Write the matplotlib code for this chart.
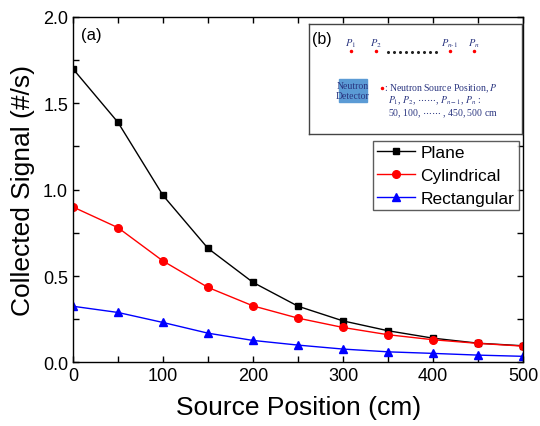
import matplotlib.pyplot as plt
from matplotlib.patches import Rectangle

plt.rcParams["font.family"] = ["Liberation Sans", "DejaVu Sans"]
plt.rcParams["mathtext.fontset"] = "stix"

# data
positions = [0, 50, 100, 150, 200, 250, 300, 350, 400, 450, 500]
plane = [1.70, 1.39, 0.967, 0.66, 0.463, 0.325, 0.24, 0.183, 0.14, 0.111, 0.096]
cylindrical = [0.90, 0.78, 0.587, 0.434, 0.327, 0.256, 0.202, 0.16, 0.131, 0.11, 0.094]
rectangular = [0.325, 0.289, 0.231, 0.169, 0.127, 0.10, 0.077, 0.061, 0.052, 0.042, 0.035]

fig = plt.figure(figsize=(5.4, 4.27), dpi=100)
ax = fig.add_axes([0.135, 0.149, 0.834, 0.809])

ax.plot(positions, plane, "-s", color="black", lw=1, ms=5, label="Plane")
ax.plot(positions, cylindrical, "-o", color="red", lw=1, ms=5.5, label="Cylindrical")
ax.plot(positions, rectangular, "-^", color="blue", lw=1, ms=5.5, label="Rectangular")

ax.set_xlim(0, 500)
ax.set_ylim(0, 2.0)
ax.set_xticks([0, 100, 200, 300, 400, 500])
ax.set_xticks(range(50, 500, 100), minor=True)
ax.set_yticks([0.0, 0.5, 1.0, 1.5, 2.0])
ax.set_yticks([0.25, 0.75, 1.25, 1.75], minor=True)
ax.tick_params(which="both", direction="in", top=True, right=True, length=4, width=1, labelsize=13)
ax.set_xlabel("Source Position (cm)", fontsize=19, labelpad=8)
ax.set_ylabel("Collected Signal (#/s)", fontsize=19, labelpad=6)
for s in ax.spines.values():
    s.set_linewidth(1)

ax.text(0.017, 0.97, "(a)", transform=ax.transAxes, fontsize=12, va="top")

leg = ax.legend(loc="upper right", bbox_to_anchor=(0.99, 0.642), fontsize=12.5,
                frameon=True, fancybox=False, edgecolor="#333333", borderpad=0.25,
                labelspacing=0.45, handlelength=2.2, handletextpad=0.3, borderaxespad=0)
leg.get_frame().set_linewidth(1)

# inset (b) schematic
ins = fig.add_axes([0.572, 0.684, 0.394, 0.258])
ins.set_xlim(309, 522)
ins.set_ylim(135, 25)
ins.set_xticks([])
ins.set_yticks([])
for s in ins.spines.values():
    s.set_color("#444444")
    s.set_linewidth(1)

navy = "#2a3580"
ins.text(312, 40, "(b)", fontsize=11.5, va="center", ha="left")

src_x = [351, 376, 450, 474]
src_lbl = ["$P_1$", "$P_2$", "$P_{n\\text{-}1}$", "$P_n$"]
for x, lb in zip(src_x, src_lbl):
    ins.plot(x, 52, "o", color="red", ms=1.5)
    ins.text(x, 44, lb, fontsize=7.5, ha="center", va="center", color=navy,
             family="Liberation Serif", style="italic")
for x in range(388, 442, 6):
    ins.plot(x, 53, "o", color="#222222", ms=1.2)

ins.add_patch(Rectangle((339, 80), 28, 23, color="#5b9bd5"))
ins.text(353, 91.5, "Neutron\nDetector", fontsize=7, ha="center", va="center",
         color=navy, family="Liberation Serif", linespacing=1.1)

ins.plot(382, 89, "o", color="red", ms=1.5)
ins.text(384, 89, ": Neutron Source Position, $P$", fontsize=7, va="center",
         color=navy, family="Liberation Serif")
ins.text(388, 101, "$P_1$, $P_2$, $\\cdots\\cdots$, $P_{n-1}$, $P_n$ :", fontsize=7,
         va="center", color=navy, family="Liberation Serif")
ins.text(388, 114, "50, 100, $\\cdots\\cdots$ , 450, 500 cm", fontsize=7,
         va="center", color=navy, family="Liberation Serif")

fig.savefig("out.png", dpi=100)
